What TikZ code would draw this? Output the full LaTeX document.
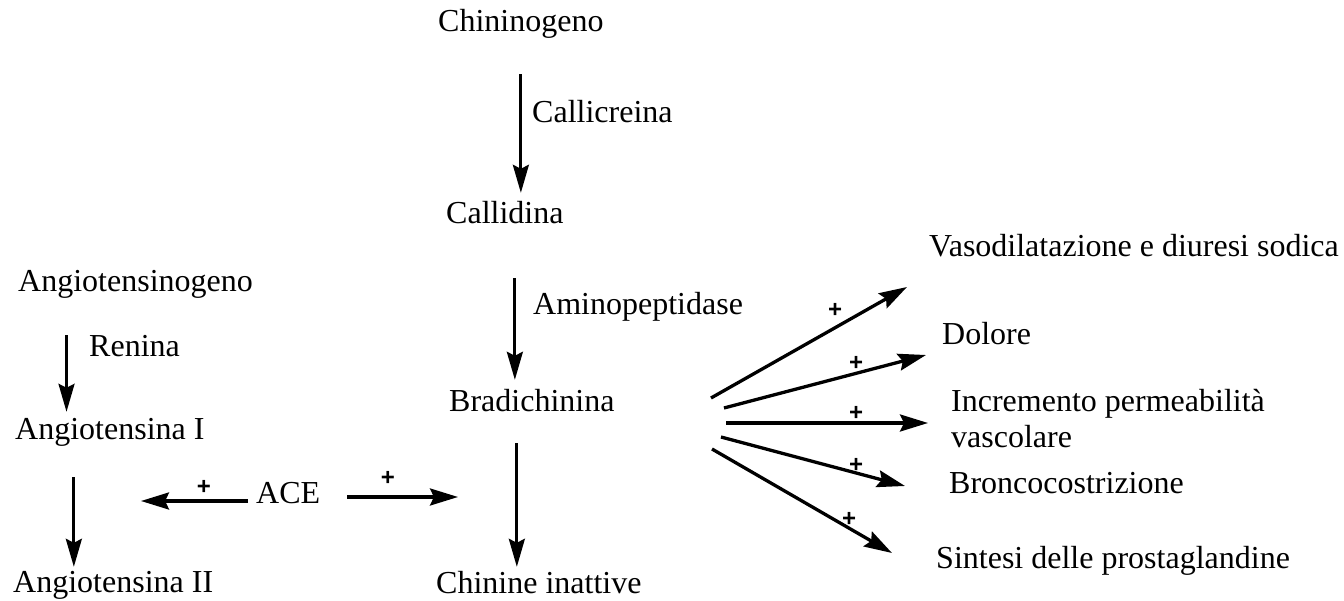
\documentclass[tikz,border=0pt]{standalone}
\usepackage{fontspec}
\setmainfont{Liberation Serif}
\newfontfamily\plusfont{Liberation Sans}
\usetikzlibrary{arrows.meta}
\begin{document}
\begin{tikzpicture}[x=1pt,y=-1pt,
  lbl/.style={anchor=base west,inner sep=0pt,text height=22pt,text depth=7pt,font=\fontsize{32}{36}\selectfont},
  pl/.style={inner sep=0pt,font=\plusfont\bfseries\fontsize{24}{24}\selectfont},
  varr/.style={line width=2.8pt,-{Stealth[length=28pt,width=16pt,inset=4pt]}},
  harr/.style={line width=3.3pt,-{Stealth[length=28pt,width=17pt,inset=4pt]}}]
\useasboundingbox (0,0) rectangle (1344,601);
% kinin pathway
\node[lbl] (chin) at (438,32) {Chininogeno};
\node[lbl] (callicr) at (532,123) {Callicreina};
\node[lbl] (callid) at (446,224) {Callidina};
\node[lbl] (amino) at (533,315) {Aminopeptidase};
\node[lbl] (brad) at (449,412) {Bradichinina};
\node[lbl] (chinin) at (436,593) {Chinine inattive};
% angiotensin pathway
\node[lbl] (ang0) at (18,292) {Angiotensinogeno};
\node[lbl] (ren) at (89,357) {Renina};
\node[lbl] (angI) at (15,439) {Angiotensina I};
\node[lbl] (angII) at (13,592) {Angiotensina II};
\node[lbl] (ace) at (256,503) {ACE};
% effects
\node[lbl] (vaso) at (929,257) {Vasodilatazione e diuresi sodica};
\node[lbl] (dol) at (942,345) {Dolore};
\node[lbl] (incr) at (951,411) {Incremento permeabilità};
\node[lbl] (incr2) at (951,447) {vascolare};
\node[lbl] (bronco) at (949,493) {Broncocostrizione};
\node[lbl] (sint) at (936,568) {Sintesi delle prostaglandine};
% vertical arrows
\draw[varr,shorten <=35pt,shorten >=9pt] (chin.south) -- (chin.south |- callid.north);
\draw[varr,shorten <=47pt,shorten >=10pt] ([xshift=10pt]callid.south) -- ([xshift=10pt]callid.south |- brad.north);
\draw[varr,shorten <=24pt,shorten >=4pt] ([xshift=-15pt]brad.south) -- ([xshift=-15pt]brad.south |- chinin.north);
\draw[varr,shorten <=36pt,shorten >=5pt] ([xshift=-69pt]ang0.south) -- ([xshift=-69pt]ang0.south |- angI.north);
\draw[varr,shorten <=31pt,shorten >=3pt] ([xshift=-36pt]angI.south) -- ([xshift=-36pt]angI.south |- angII.north);
% ACE arrows
\coordinate (aceL) at (141,501);
\coordinate (aceR) at (458,497);
\draw[harr,shorten <=8pt] (aceL -| ace.west) -- (aceL);
\draw[harr,shorten <=27pt] (aceR -| ace.east) -- (aceR);
\node[pl] (p1) at (204,487) {+};
\node[pl] (p2) at (388,478) {+};
% fan of effects
\coordinate (s1) at (711,398); \coordinate (e1) at (907,287);
\coordinate (s2) at (724,408); \coordinate (e2) at (926,355);
\coordinate (s3) at (726,423); \coordinate (e3) at (928,423);
\coordinate (s4) at (721,437); \coordinate (e4) at (905,486);
\coordinate (s5) at (712,449); \coordinate (e5) at (892,553);
\foreach \i in {1,...,5} {\draw[harr] (s\i) -- (e\i);}
\node[pl] (q1) at (835,310) {+};
\node[pl] (q2) at (856,363) {+};
\node[pl] (q3) at (856,413) {+};
\node[pl] (q4) at (856,465) {+};
\node[pl] (q5) at (849,519) {+};
\end{tikzpicture}
\end{document}
